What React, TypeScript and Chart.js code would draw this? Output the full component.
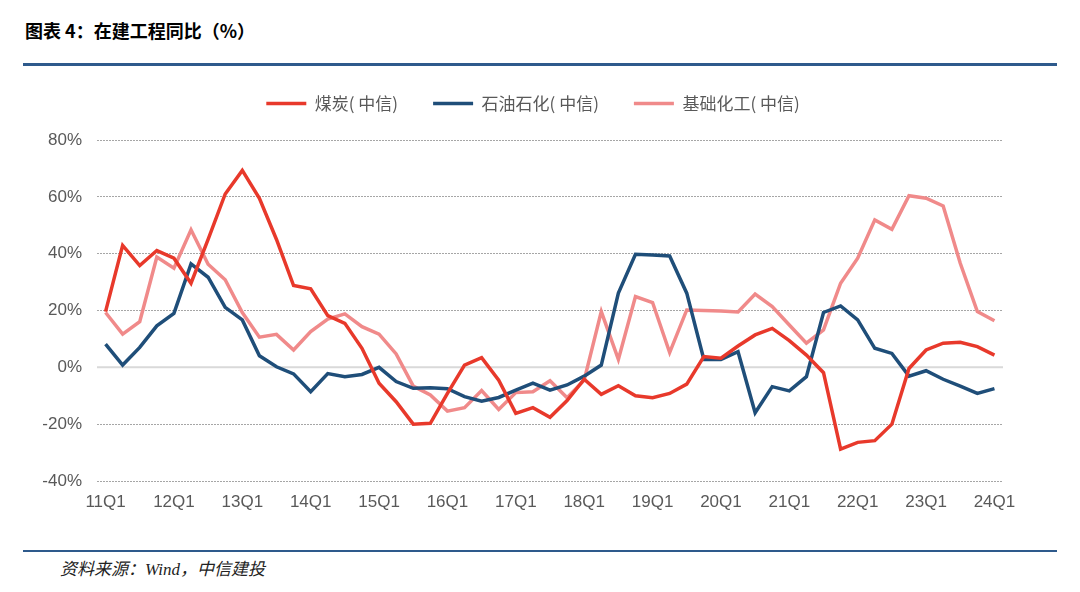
import React, { useEffect, useRef } from "react";
import { Chart, registerables } from "chart.js";

Chart.register(...registerables);

const quarters = [
  "11Q1", "11Q2", "11Q3", "11Q4", "12Q1", "12Q2", "12Q3", "12Q4",
  "13Q1", "13Q2", "13Q3", "13Q4", "14Q1", "14Q2", "14Q3", "14Q4",
  "15Q1", "15Q2", "15Q3", "15Q4", "16Q1", "16Q2", "16Q3", "16Q4",
  "17Q1", "17Q2", "17Q3", "17Q4", "18Q1", "18Q2", "18Q3", "18Q4",
  "19Q1", "19Q2", "19Q3", "19Q4", "20Q1", "20Q2", "20Q3", "20Q4",
  "21Q1", "21Q2", "21Q3", "21Q4", "22Q1", "22Q2", "22Q3", "22Q4",
  "23Q1", "23Q2", "23Q3", "23Q4", "24Q1",
];

const coal = [
  19.6, 42.9, 35.8, 41.1, 38.4, 29.6, 45, 61, 69.3, 59.5, 45, 28.8, 27.6,
  18.2, 15.5, 6.7, -5.6, -12.1, -20, -19.7, -9.2, 0.8, 3.4, -4.5, -16.2,
  -14.2, -17.6, -11.7, -4.2, -9.5, -6.5, -10, -10.7, -9.2, -5.9, 3.8, 3.2,
  7.5, 11.4, 13.7, 9.4, 4.3, -1.9, -28.8, -26.4, -25.8, -20, -0.4, 6.1, 8.5,
  8.8, 7.3, 4.3,
];

const petro = [
  8.2, 0.8, 7.0, 14.6, 19.0, 36.4, 31.7, 21.1, 16.7, 4.1, 0.2, -2.3, -8.6,
  -2.2, -3.3, -2.5, 0, -5, -7.4, -7.2, -7.5, -10.3, -11.9, -10.6, -8, -5.6,
  -8, -6.2, -3.1, 0.8, 26.1, 39.8, 39.5, 39.2, 26.1, 2.8, 2.8, 5.5, -16,
  -6.8, -8.3, -3.3, 19.3, 21.6, 16.7, 6.7, 4.9, -3.1, -1.2, -4.2, -6.6, -9.2,
  -7.5,
];

const chem = [
  19.3, 11.7, 16.1, 38.8, 34.9, 48.4, 36.3, 30.8, 19.3, 10.6, 11.6, 6.1,
  12.6, 17, 18.8, 14.3, 11.7, 4.7, -6.6, -9.7, -15.4, -14.2, -8.2, -14.8,
  -8.9, -8.6, -4.7, -10.7, -4.5, 19.6, 2.8, 24.9, 22.8, 5.2, 20.2, 20, 19.8,
  19.5, 25.8, 21.4, 14.9, 8.5, 13.2, 29.6, 38.4, 51.9, 48.6, 60.4, 59.5,
  56.8, 36.6, 19.6, 16.4,
];

const seriesNames = ["煤炭( 中信)", "石油石化( 中信)", "基础化工( 中信)"];
const seriesColors = ["#E8392B", "#1F4E79", "#F08A8A"];

const yMin = -40;
const yMax = 80;
const yStep = 20;

const zeroLinePlugin = {
  id: "zeroLine",
  beforeDatasetsDraw(chart: any) {
    const y = chart.scales.y.getPixelForValue(0);
    const { left, right } = chart.chartArea;
    const ctx = chart.ctx;
    ctx.save();
    ctx.strokeStyle = "#d9d9d9";
    ctx.lineWidth = 2;
    ctx.beginPath();
    ctx.moveTo(left, y);
    ctx.lineTo(right, y);
    ctx.stroke();
    ctx.restore();
  },
};

function ChartCanvas() {
  const ref = useRef<HTMLCanvasElement | null>(null);
  useEffect(() => {
    if (!ref.current) return;
    const datasets = [coal, petro, chem].map((d, i) => ({
      label: seriesNames[i],
      data: d,
      borderColor: seriesColors[i],
      backgroundColor: seriesColors[i],
      borderWidth: 3.5,
      pointRadius: 0,
      pointStyle: "line" as const,
      tension: 0,
      fill: false,
      yAxisID: "y",
    }));
    const chart = new Chart(ref.current, {
      type: "line",
      data: { labels: quarters, datasets },
      plugins: [zeroLinePlugin],
      options: {
        responsive: false,
        animation: false,
        devicePixelRatio: 1,
        layout: { padding: { left: 0, right: 14, top: 0, bottom: 0 } },
        plugins: {
          legend: {
            display: true,
            position: "top",
            labels: {
              usePointStyle: true,
              pointStyle: "line",
              pointStyleWidth: 40,
              padding: 35,
              color: "#595959",
              font: { family: "'Noto Sans CJK SC', 'Liberation Sans'", size: 17 },
            },
          },
          title: {
            display: true,
            text: "",
            padding: 0,
            weight: 500,
            font: { size: 18, lineHeight: 1 },
          },
          tooltip: { enabled: false },
        },
        scales: {
          x: {
            type: "category",
            offset: true,
            grid: { display: false, drawTicks: false },
            border: { display: false },
            ticks: {
              autoSkip: false,
              maxRotation: 0,
              minRotation: 0,
              padding: 11,
              color: "#595959",
              font: { family: "'Liberation Sans', Arial", size: 17 },
              callback: (_v: any, i: number) => (i % 4 === 0 ? quarters[i] : ""),
            },
            afterFit: (scale: any) => {
              scale.height = 49;
            },
          },
          y: {
            position: "left",
            min: yMin,
            max: yMax,
            grid: {
              drawTicks: false,
              lineWidth: 1,
              color: (c: any) => (c.tick && c.tick.value === 0 ? "rgba(0,0,0,0)" : "#a6a6a6"),
            },
            border: { display: false, dash: [2, 1] },
            ticks: {
              stepSize: yStep,
              padding: 15,
              color: "#595959",
              font: { family: "'Liberation Sans', Arial", size: 17 },
              callback: (v: any) => `${v}%`,
            },
            afterFit: (scale: any) => {
              scale.width = 97;
            },
          },
          yRight: {
            position: "right",
            display: true,
            min: yMin,
            max: yMax,
            grid: { display: false, drawTicks: false },
            border: { display: false },
            ticks: { display: false },
            afterFit: (scale: any) => {
              scale.width = 63;
            },
          },
        },
      },
    });
    return () => chart.destroy();
  }, []);
  return (
    <canvas
      ref={ref}
      width={1080}
      height={470}
      style={{ position: "absolute", left: 0, top: 60, width: 1080, height: 470 }}
    />
  );
}

export default function App() {
  return (
    <div
      style={{
        position: "fixed",
        left: 0,
        top: 0,
        width: 1080,
        height: 592,
        background: "#ffffff",
        overflow: "hidden",
      }}
    >
      <div
        style={{
          position: "absolute",
          left: 25,
          top: 21,
          fontFamily: "'Noto Sans CJK SC', 'Liberation Sans', sans-serif",
          fontWeight: 700,
          fontSize: 18,
          lineHeight: "18px",
          color: "#000",
          whiteSpace: "nowrap",
        }}
      >
        图表 4：在建工程同比（%）
      </div>
      <div
        style={{
          position: "absolute",
          left: 23,
          top: 63,
          width: 1034,
          height: 3,
          background: "#2E5A8C",
        }}
      />
      <ChartCanvas />
      <div
        style={{
          position: "absolute",
          left: 23,
          top: 550,
          width: 1034,
          height: 2,
          background: "#2E5A8C",
        }}
      />
      <div
        style={{
          position: "absolute",
          left: 60,
          top: 561,
          fontFamily: "'Liberation Serif', 'Noto Sans CJK SC', serif",
          fontStyle: "italic",
          fontSize: 17,
          lineHeight: "17px",
          color: "#222",
          whiteSpace: "nowrap",
        }}
      >
        资料来源：Wind，中信建投
      </div>
    </div>
  );
}
